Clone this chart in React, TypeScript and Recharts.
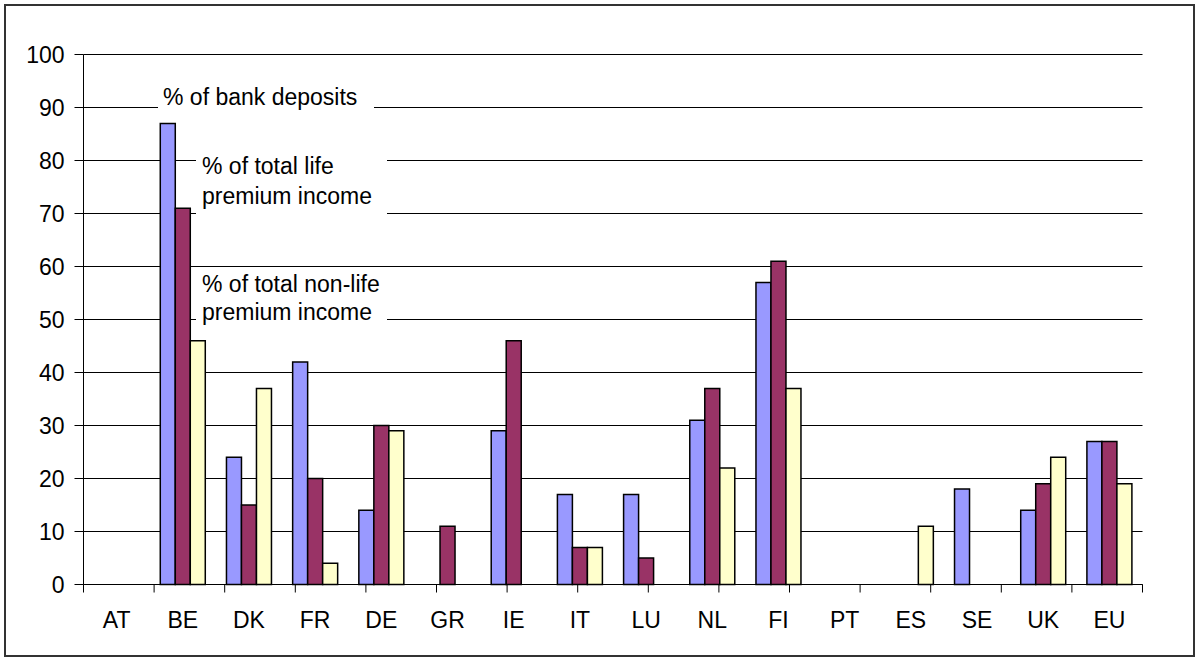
import React from 'react';
import { BarChart, Bar, XAxis, YAxis, CartesianGrid, ReferenceLine } from 'recharts';

const categories = ['AT', 'BE', 'DK', 'FR', 'DE', 'GR', 'IE', 'IT', 'LU', 'NL', 'FI', 'PT', 'ES', 'SE', 'UK', 'EU'];
const bankDeposits = [null, 87, 24, 42, 14, null, 29, 17, 17, 31, 57, null, null, 18, 14, 27];
const lifePremium = [null, 71, 15, 20, 30, 11, 46, 7, 5, 37, 61, null, null, null, 19, 27];
const nonLifePremium = [null, 46, 37, 4, 29, null, null, 7, null, 22, 37, null, 11, null, 24, 19];
const yTicks = [0, 10, 20, 30, 40, 50, 60, 70, 80, 90, 100];
const boundaryTicks = [0, 1, 2, 3, 4, 5, 6, 7, 8, 9, 10, 11, 12, 13, 14, 15, 16];

const data = categories.map((c, i) => ({
  name: c,
  bank: bankDeposits[i],
  life: lifePremium[i],
  nonlife: nonLifePremium[i],
}));

const FONT = '"Liberation Sans", Arial, sans-serif';

const boxStyle: React.CSSProperties = {
  position: 'absolute',
  background: '#fff',
  fontFamily: FONT,
  fontSize: 23,
  color: '#000',
  whiteSpace: 'nowrap',
  boxSizing: 'border-box',
};

export default function App() {
  return (
    <div style={{ position: 'absolute', left: 0, top: 0, width: 1197, height: 659, background: '#fff' }}>
      <div
        style={{
          position: 'absolute',
          left: 4,
          top: 4,
          width: 1191,
          height: 653,
          border: '2px solid #333',
          boxSizing: 'border-box',
        }}
      />
      <div style={{ position: 'absolute', left: 0, top: 0 }}>
        <BarChart
          width={1197}
          height={659}
          data={data}
          margin={{ top: 54.5, right: 54.5, bottom: 47.5, left: 0.5 }}
          barGap={0}
          barCategoryGap="16%"
          style={{ fontFamily: FONT }}
        >
          <CartesianGrid vertical={false} stroke="#000" strokeWidth={1} />
          <XAxis
            xAxisId="b"
            dataKey="name"
            type="category"
            height={26}
            axisLine={false}
            tickLine={false}
            tickSize={0}
            tickMargin={26}
            interval={0}
            tick={{ fill: '#000', fontSize: 23, fontFamily: FONT }}
          />
          <XAxis
            xAxisId="a"
            type="number"
            domain={[0, 16]}
            ticks={boundaryTicks}
            allowDataOverflow
            height={1}
            tickSize={8}
            tickLine={{ stroke: '#000' }}
            axisLine={{ stroke: '#000' }}
            tick={() => <g />}
          />
          <YAxis
            width={83}
            domain={[0, 100]}
            ticks={yTicks}
            interval={0}
            tickSize={9}
            tickMargin={10}
            axisLine={{ stroke: '#000' }}
            tickLine={{ stroke: '#000' }}
            tick={{ fill: '#000', fontSize: 23, fontFamily: FONT }}
          />
          <ReferenceLine xAxisId="a" x={16} stroke="#808080" strokeWidth={1} />
          <Bar xAxisId="b" dataKey="bank" fill="#9999FF" stroke="#000" strokeWidth={1.5} isAnimationActive={false} />
          <Bar xAxisId="b" dataKey="life" fill="#993366" stroke="#000" strokeWidth={1.5} isAnimationActive={false} />
          <Bar xAxisId="b" dataKey="nonlife" fill="#FFFFCC" stroke="#000" strokeWidth={1.5} isAnimationActive={false} />
        </BarChart>
      </div>
      <div style={{ ...boxStyle, left: 158, top: 84, width: 216, height: 26, lineHeight: '26px', paddingLeft: 5 }}>
        % of bank deposits
      </div>
      <div style={{ ...boxStyle, left: 196, top: 151, width: 191, height: 66, lineHeight: '30px', paddingLeft: 6 }}>
        % of total life
        <br />
        premium income
      </div>
      <div style={{ ...boxStyle, left: 196, top: 270, width: 191, height: 56, lineHeight: '28px', paddingLeft: 6 }}>
        % of total non-life
        <br />
        premium income
      </div>
    </div>
  );
}
